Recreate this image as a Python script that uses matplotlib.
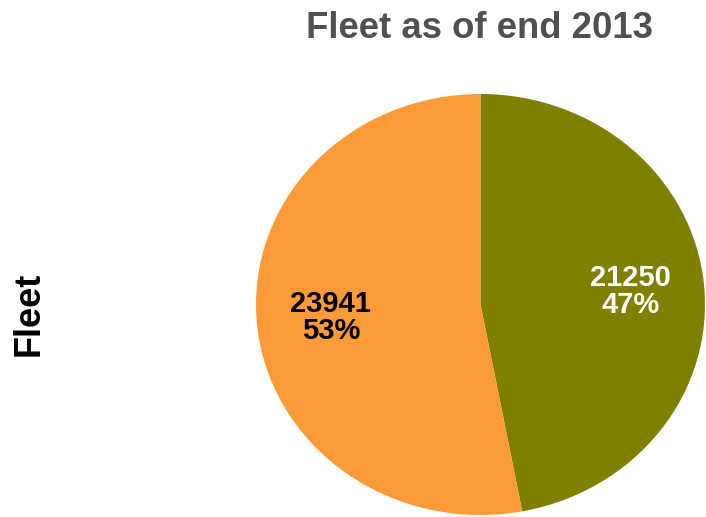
import matplotlib.pyplot as plt

plt.rcParams['font.family'] = ['Liberation Sans', 'DejaVu Sans']

categorias = ['Grupo B', 'Grupo A']
frota = [21250, 23941]
cores = ['#808000', '#FA9B37']
cores_texto = ['white', 'black']

W, H = 706, 517
fig = plt.figure(figsize=(W / 100, H / 100), dpi=100)

# eixo do tamanho exato da pizza (levemente achatada na vertical)
ax = fig.add_axes([256 / W, 2 / H, 449 / W, 421 / H])

total = sum(frota)


def rotulo(pct):
    valor = int(round(pct * total / 100.0))
    return f'{valor}\n{pct:.0f}%'


fatias, textos, pcts = ax.pie(frota, colors=cores, startangle=90, counterclock=False,
                              autopct=rotulo, pctdistance=0.67, radius=1,
                              wedgeprops=dict(linewidth=0))
for t, c in zip(pcts, cores_texto):
    t.set_color(c)
    t.set_fontsize(21)
    t.set_fontweight('bold')
    t.set_linespacing(0.98)

ax.set_aspect('auto')
ax.set_xlim(-1, 1)
ax.set_ylim(-1, 1)

fig.text(480 / W, 1 - 28 / H, 'Fleet as of end 2013', ha='center', va='center',
         fontsize=26.3, fontweight='bold', color='#505050')
fig.text(29 / W, 1 - 314 / H, 'Fleet', ha='center', va='center', rotation=90,
         fontsize=26, fontweight='bold', color='black')

fig.savefig('out.png', dpi=100)
